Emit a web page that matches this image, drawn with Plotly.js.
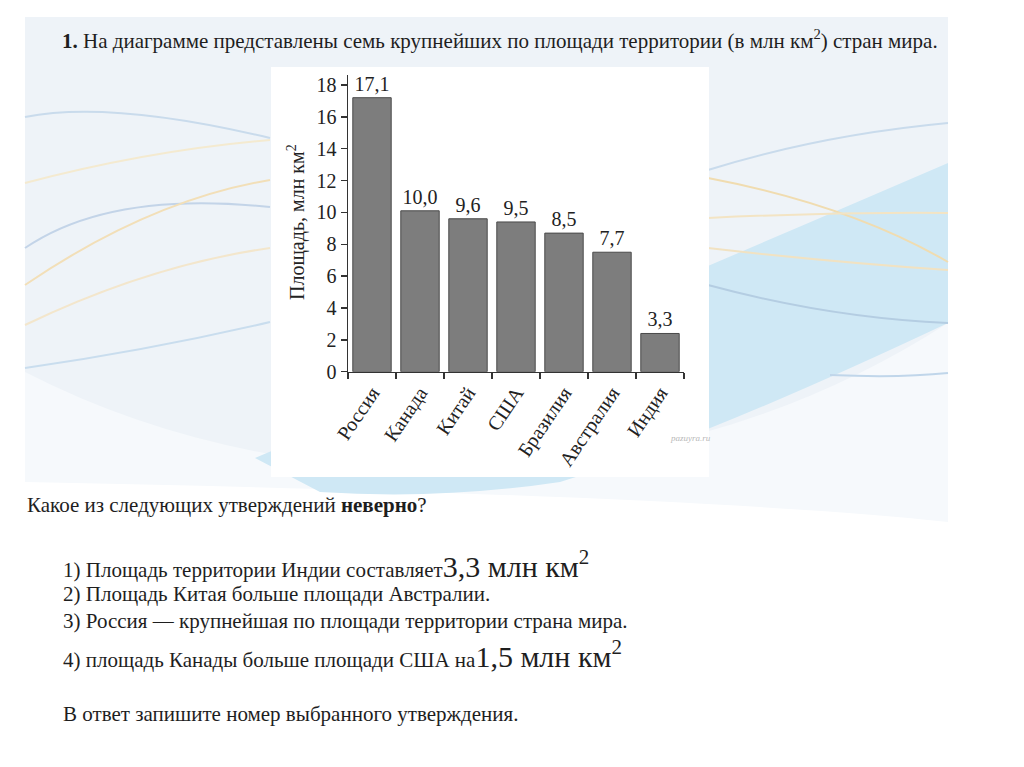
<!DOCTYPE html>
<html>
<head>
<meta charset="utf-8">
<script src="https://cdn.plot.ly/plotly-3.0.1.min.js"></script>
<style>html,body{margin:0;padding:0;background:#fff;}#chart{width:1024px;height:767px;}</style>
</head>
<body>
<div id="chart"></div>
<script>
// ---- data ----
const countries = ["Россия", "Канада", "Китай", "США", "Бразилия", "Австралия", "Индия"];
const barHeights = [17.2, 10.1, 9.6, 9.4, 8.7, 7.5, 2.4];
const barLabels = ["17,1", "10,0", "9,6", "9,5", "8,5", "7,7", "3,3"];
const yTicks = [0, 2, 4, 6, 8, 10, 12, 14, 16, 18];
const yTitle = "Площадь, млн км<sup>2</sup>";

// ---- helpers for page-pixel placement ----
const W = 1024, H = 767;
const px = x => x / W;
const py = y => 1 - y / H;
function path(pts) {
  return pts.replace(/(-?\d+(?:\.\d+)?),(-?\d+(?:\.\d+)?)/g, (m, a, b) => px(+a).toFixed(5) + ',' + py(+b).toFixed(5));
}
const SERIF = "Liberation Serif, Times New Roman, serif";

const shapes = [];
function addPath(d, fill, line, width) {
  shapes.push({type: 'path', xref: 'paper', yref: 'paper', layer: 'below', path: path(d),
    fillcolor: fill || 'rgba(0,0,0,0)', line: {color: line || 'rgba(0,0,0,0)', width: width || 0}});
}
// slide background
addPath("M 25,17 L 948,17 L 948,480 L 25,480 Z", '#eef3f8');
addPath("M 25,372 Q 200,462 420,470 Q 720,470 948,323 L 948,522 Q 700,495 25,482 Z", '#f6f9fc');
addPath("M 255,458 Q 560,330 948,163 L 948,323 Q 700,440 560,482 Q 440,500 320,492 Z", '#cfe8f5');
// decorative wave lines (left)
addPath("M 25,117 Q 110,100 270,138", null, '#c9dbec', 2);
addPath("M 25,183 Q 150,150 270,140", null, '#f4ead0', 2);
addPath("M 25,248 Q 110,190 270,207", null, '#c3d4e8', 2);
addPath("M 25,285 Q 150,200 270,180", null, '#f2dfb8', 2);
addPath("M 25,325 Q 150,265 270,248", null, '#f3e6cc', 2);
addPath("M 25,368 Q 150,350 270,322", null, '#c9ddee', 2);
// decorative wave lines (right)
addPath("M 708,170 Q 820,135 948,123", null, '#c9dbec', 2);
addPath("M 708,178 Q 850,205 948,262", null, '#f0dcb0', 2);
addPath("M 708,218 Q 830,212 948,213", null, '#f3e4c4', 2);
addPath("M 708,248 Q 830,262 948,270", null, '#f1e2c2', 2);
addPath("M 708,285 Q 830,318 948,323", null, '#b4cde2', 2);
addPath("M 830,375 Q 900,378 948,373", null, '#c0d6ea', 2);
// white chart panel
shapes.push({type: 'rect', xref: 'paper', yref: 'paper', layer: 'below',
  x0: px(271), x1: px(709), y0: py(477), y1: py(67), fillcolor: '#ffffff', line: {width: 0}});

const txt = '#1e1e1e';
function note(text, x, y, size, extra) {
  return Object.assign({text: text, xref: 'paper', yref: 'paper', x: px(x), y: py(y),
    xanchor: 'left', yanchor: 'middle', showarrow: false, align: 'left',
    font: {family: SERIF, size: size, color: txt}}, extra || {});
}
const big = "<span style='font-size:30px'>";
const annotations = [
  note("<b>1.</b> На диаграмме представлены семь крупнейших по площади территории (в млн км<sup>2</sup>) стран мира.", 60, 40, 21),
  note(yTitle, 297, 222, 20, {xanchor: 'center', textangle: -90, font: {family: SERIF, size: 20, color: '#222'}}),
  note("Какое из следующих утверждений <b>неверно</b>?", 25, 505, 21),
  note("1) Площадь территории Индии составляет" + big + "3,3 млн км<sup>2</sup></span>", 61, 564, 21),
  note("2) Площадь Китая больше площади Австралии.", 61, 594, 21),
  note("3) Россия — крупнейшая по площади территории страна мира.", 61, 621, 21),
  note("4) площадь Канады больше площади США на" + big + "1,5 млн км<sup>2</sup></span>", 61, 654, 21),
  note("В ответ запишите номер выбранного утверждения.", 61, 714, 21),
  note("<i>pazuyra.ru</i>", 668, 438, 9, {font: {family: SERIF, size: 9, color: '#b8b8b8'}})
];

const trace = {
  type: 'bar',
  x: countries,
  y: barHeights,
  text: barLabels,
  texttemplate: '%{text}',
  textposition: 'outside',
  constraintext: 'none',
  cliponaxis: false,
  textfont: {family: SERIF, size: 20, color: '#222'},
  marker: {color: '#7d7d7d', line: {color: '#4a4a4a', width: 1}},
  hoverinfo: 'x+y'
};

const layout = {
  width: W, height: H,
  margin: {l: 0, r: 0, t: 0, b: 0, pad: 0},
  paper_bgcolor: '#ffffff',
  plot_bgcolor: 'rgba(0,0,0,0)',
  showlegend: false,
  bargap: 0.2,
  font: {family: SERIF, color: '#222'},
  xaxis: {
    domain: [px(348), px(684)],
    range: [-0.5, 6.5],
    tickson: 'boundaries',
    ticks: 'outside', ticklen: 6, tickwidth: 1.5, tickcolor: '#333',
    showline: true, linecolor: '#333', linewidth: 1.5,
    showgrid: false, zeroline: false,
    tickangle: -56,
    tickfont: {family: SERIF, size: 20, color: '#222'},
    automargin: false
  },
  yaxis: {
    domain: [py(371.7), py(75.4)],
    range: [0, 18.6],
    tickvals: yTicks,
    ticktext: yTicks.map(String),
    ticks: 'outside', ticklen: 6, tickwidth: 1.5, tickcolor: '#333',
    showline: true, linecolor: '#333', linewidth: 1.5,
    showgrid: false, zeroline: false,
    tickfont: {family: SERIF, size: 20, color: '#222'},
    automargin: false
  },
  shapes: shapes,
  annotations: annotations
};

Plotly.newPlot('chart', [trace], layout, {displayModeBar: false, staticPlot: true});
</script>
</body>
</html>
